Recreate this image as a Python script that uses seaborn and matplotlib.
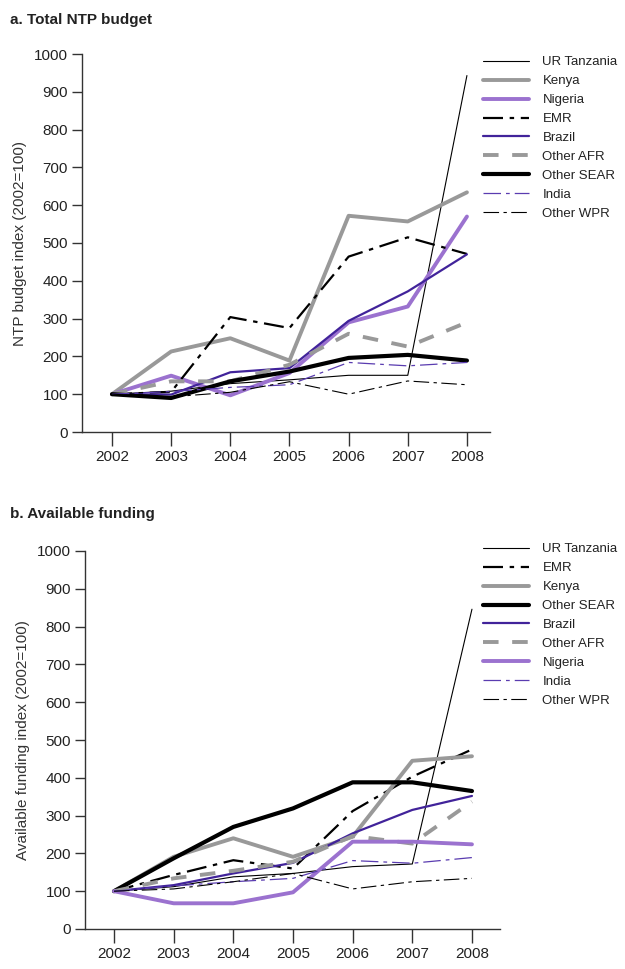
import numpy as np
import pandas as pd
import matplotlib
matplotlib.use('Agg')
import matplotlib.pyplot as plt
import seaborn as sns

years = [2002, 2003, 2004, 2005, 2006, 2007, 2008]

# a. Total NTP budget (index 2002=100)
budget_tanzania = [100, 108, 128, 138, 150, 150, 943]
budget_kenya = [100, 213, 248, 189, 572, 557, 634]
budget_nigeria = [100, 149, 97, 156, 290, 332, 570]
budget_emr = [100, 106, 304, 275, 464, 515, 471]
budget_brazil = [100, 99, 158, 169, 294, 372, 470]
budget_other_afr = [100, 134, 134, 178, 260, 226, 290]
budget_other_sear = [100, 90, 134, 160, 196, 204, 189]
budget_india = [100, 107, 118, 125, 184, 175, 184]
budget_other_wpr = [100, 93, 105, 133, 100, 135, 125]

# b. Available funding (index 2002=100)
fund_tanzania = [100, 112, 138, 147, 165, 172, 846]
fund_emr = [100, 143, 182, 160, 312, 403, 475]
fund_kenya = [100, 191, 240, 191, 244, 445, 457]
fund_other_sear = [100, 187, 270, 319, 388, 388, 365]
fund_brazil = [100, 116, 147, 175, 253, 315, 352]
fund_other_afr = [100, 134, 154, 178, 246, 226, 337]
fund_nigeria = [100, 68, 68, 97, 231, 231, 224]
fund_india = [100, 114, 125, 134, 181, 174, 189]
fund_other_wpr = [100, 106, 125, 147, 106, 125, 134]

GRAY = '#999999'
LPURP = '#9b72cf'
DPURP = '#41239a'
MPURP = '#5a3cb0'

styles = {
    'UR Tanzania': dict(color='black', lw=0.8, ls='-'),
    'Kenya': dict(color=GRAY, lw=2.8, ls='-'),
    'Nigeria': dict(color=LPURP, lw=2.8, ls='-'),
    'EMR': dict(color='black', lw=1.6, ls=(0, (9, 3, 2, 3))),
    'Brazil': dict(color=DPURP, lw=1.6, ls='-'),
    'Other AFR': dict(color=GRAY, lw=2.8, ls=(0, (4, 3.5))),
    'Other SEAR': dict(color='black', lw=3.0, ls='-'),
    'India': dict(color=MPURP, lw=0.9, ls=(0, (14, 4, 3, 4))),
    'Other WPR': dict(color='black', lw=0.8, ls=(0, (14, 4, 3, 4))),
}

panel_a = {
    'UR Tanzania': budget_tanzania, 'Kenya': budget_kenya, 'Nigeria': budget_nigeria,
    'EMR': budget_emr, 'Brazil': budget_brazil, 'Other AFR': budget_other_afr,
    'Other SEAR': budget_other_sear, 'India': budget_india, 'Other WPR': budget_other_wpr,
}
panel_b = {
    'UR Tanzania': fund_tanzania, 'EMR': fund_emr, 'Kenya': fund_kenya,
    'Other SEAR': fund_other_sear, 'Brazil': fund_brazil, 'Other AFR': fund_other_afr,
    'Nigeria': fund_nigeria, 'India': fund_india, 'Other WPR': fund_other_wpr,
}

sns.set_style('ticks')
plt.rcParams['font.family'] = ['Liberation Sans', 'DejaVu Sans']
plt.rcParams['font.size'] = 10
plt.rcParams['text.color'] = '#222222'

W, H = 625, 969
fig = plt.figure(figsize=(W / 100, H / 100), dpi=100)


def panel(series, ax_px, xlim, title, title_y, ylabel, leg_top):
    x0, y0, x1, y1 = ax_px
    ax = fig.add_axes([x0 / W, 1 - y1 / H, (x1 - x0) / W, (y1 - y0) / H])
    for name, vals in series.items():
        st = styles[name]
        d = pd.DataFrame({'year': years, 'value': vals})
        sns.lineplot(data=d, x='year', y='value', ax=ax, color=st['color'],
                     linewidth=st['lw'], linestyle=st['ls'], label=name,
                     legend=False)
    ax.set_xlim(*xlim)
    ax.set_ylim(0, 1000)
    ax.set_xticks(years)
    ax.set_yticks(range(0, 1001, 100))
    ax.set_xlabel('')
    ax.set_ylabel(ylabel, fontsize=11, color='#333333', labelpad=5)
    ax.tick_params(axis='y', length=7, width=1, color='#333333', labelsize=11,
                   pad=3, labelcolor='#222222')
    ax.tick_params(axis='x', length=10, width=1, color='#333333', labelsize=11,
                   pad=3, labelcolor='#222222')
    for s in ['top', 'right']:
        ax.spines[s].set_visible(False)
    for s in ['left', 'bottom']:
        ax.spines[s].set_linewidth(1)
        ax.spines[s].set_color('#333333')
    ax.spines['left'].set_bounds(0, 1000)
    fig.text(10 / W, 1 - title_y / H, title, fontsize=11, fontweight='bold',
             va='center', ha='left', color='#222222')
    handles, labels = ax.get_legend_handles_labels()
    fig.legend(handles, labels, loc='upper left',
               bbox_to_anchor=(483 / W, 1 - leg_top / H), frameon=False,
               borderpad=0, borderaxespad=0, handlelength=3.5,
               handletextpad=1.0, labelspacing=0.51, fontsize=9.5)
    return ax


panel(panel_a, (82, 54, 490, 432), (2001.493, 2008.39),
      'a. Total NTP budget', 20, 'NTP budget index (2002=100)', 56)
panel(panel_b, (85, 551, 500, 929), (2001.514, 2008.47),
      'b. Available funding', 514, 'Available funding index (2002=100)', 543)

fig.savefig('out.png', dpi=100)
